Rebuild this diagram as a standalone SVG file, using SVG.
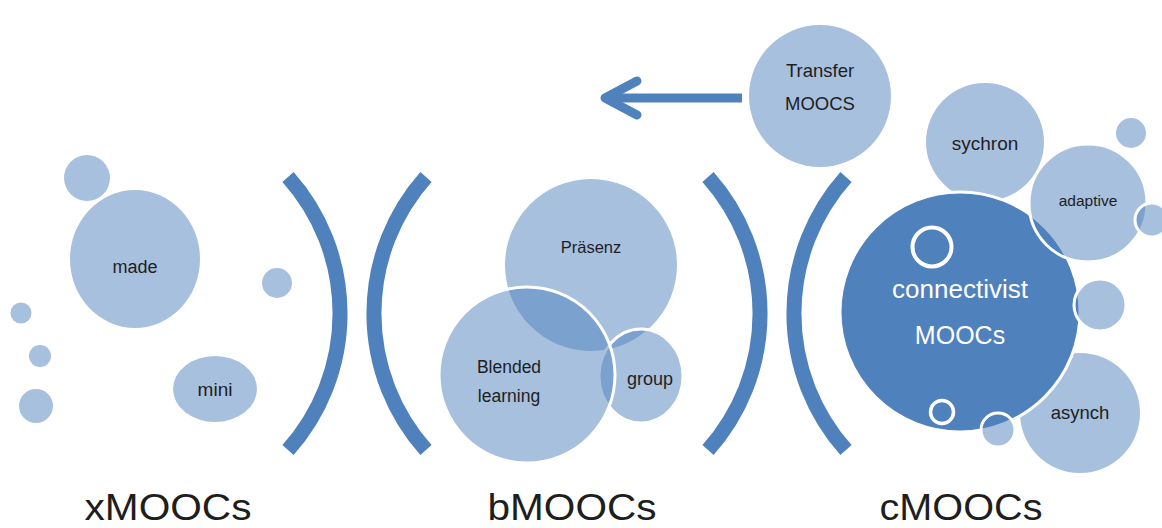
<svg xmlns="http://www.w3.org/2000/svg" width="1162" height="528" viewBox="0 0 1162 528">
<style>
.lt{fill:#4f81bd;fill-opacity:0.5}
.ws{stroke:#fff;stroke-width:3}
.dk{fill:#4f81bd}
.ring{fill:none;stroke:#fff}
.br{fill:none;stroke:#4f81bd;stroke-width:15}
.t{font-family:"Liberation Sans",Arial,sans-serif;fill:#1e1e1e;text-anchor:middle}
.tw{font-family:"Liberation Sans",Arial,sans-serif;fill:#fff;text-anchor:middle}
.big{font-family:"Liberation Sans",Arial,sans-serif;fill:#1e1e1e;text-anchor:middle;font-size:37px}
</style>
<rect width="1162" height="528" fill="#fff"/>
<g id="brackets">
<path class="br" d="M288,177 A205,205 0 0 1 288,450"/>
<path class="br" d="M426,177 A205,205 0 0 0 426,450"/>
<path class="br" d="M708,177 A205,205 0 0 1 708,450"/>
<path class="br" d="M846,177 A205,205 0 0 0 846,450"/>
</g>
<g id="xmoocs">
<circle class="lt" cx="87" cy="178" r="23"/>
<ellipse class="lt" cx="135" cy="259" rx="65" ry="69"/>
<text class="t" x="135" y="273" font-size="18">made</text>
<circle class="lt" cx="277" cy="283" r="15"/>
<circle class="lt" cx="21" cy="313" r="10.5"/>
<circle class="lt" cx="40" cy="356" r="11"/>
<circle class="lt" cx="36" cy="406" r="17"/>
<ellipse class="lt" cx="215" cy="389" rx="42" ry="33"/>
<text class="t" x="215" y="396" font-size="19">mini</text>
</g>
<g id="bmoocs">
<circle class="lt" cx="591" cy="265" r="86"/>
<text class="t" x="591" y="253" font-size="16.5">Präsenz</text>
<ellipse class="lt ws" cx="641" cy="376" rx="42" ry="47"/>
<circle class="lt ws" cx="527" cy="375" r="88"/>
<text class="t" x="509" y="373" font-size="17.5">Blended</text>
<text class="t" x="509" y="402" font-size="17.5">learning</text>
<text class="t" x="650" y="385" font-size="18">group</text>
</g>
<g id="transfer">
<circle class="lt" cx="820" cy="96" r="71"/>
<text class="t" x="820" y="77" font-size="18.5">Transfer</text>
<text class="t" x="820" y="110" font-size="18.5">MOOCS</text>
</g>
<g id="cmoocs">
<circle class="lt" cx="985" cy="142" r="59"/>
<text class="t" x="985" y="150" font-size="19">sychron</text>
<circle class="lt" cx="1080" cy="413" r="60"/>
<circle class="dk ws" cx="960" cy="312" r="120"/>
<circle class="ring" cx="932" cy="247" r="19.5" stroke-width="4"/>
<circle class="ring" cx="942" cy="412" r="11.5" stroke-width="3.5"/>
<text class="tw" x="960" y="298" font-size="26">connectivist</text>
<text class="tw" x="960" y="344" font-size="25">MOOCs</text>
<circle class="lt ws" cx="1088" cy="203" r="59"/>
<text class="t" x="1088" y="206" font-size="15.5">adaptive</text>
<circle class="lt" cx="1131" cy="133" r="15"/>
<circle class="lt ws" cx="1152" cy="220" r="17"/>
<circle class="lt ws" cx="1100" cy="305" r="26"/>
<circle class="lt ws" cx="998" cy="430" r="17"/>
<text class="t" x="1080" y="419" font-size="18.5">asynch</text>
</g>
<g id="connectors">
<line x1="742" y1="98" x2="608" y2="98" stroke="#4f81bd" stroke-width="9"/>
<polyline points="637,81 605,98 637,115" fill="none" stroke="#4f81bd" stroke-width="9" stroke-linecap="round" stroke-linejoin="round"/>
</g>
<g id="labels">
<text class="big" x="168" y="520" textLength="167" lengthAdjust="spacingAndGlyphs">xMOOCs</text>
<text class="big" x="572" y="520" textLength="169" lengthAdjust="spacingAndGlyphs">bMOOCs</text>
<text class="big" x="961" y="520" textLength="163" lengthAdjust="spacingAndGlyphs">cMOOCs</text>
</g>
</svg>
